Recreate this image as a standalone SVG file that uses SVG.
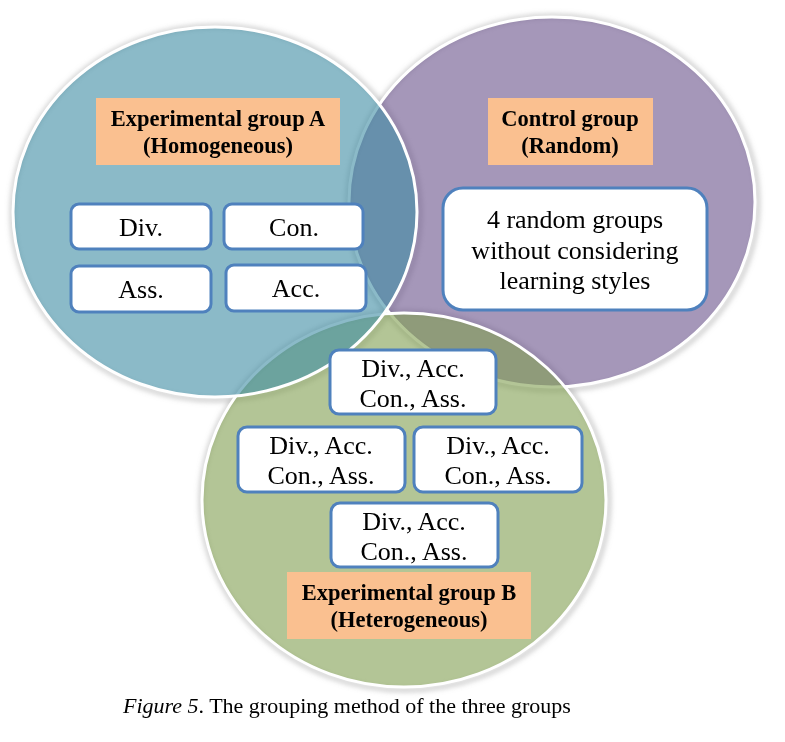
<svg xmlns="http://www.w3.org/2000/svg" width="785" height="742" viewBox="0 0 785 742">
<defs>
<filter id="sh" x="-10%" y="-10%" width="120%" height="120%"><feGaussianBlur stdDeviation="2.5"/></filter>
<style>
.shadow{fill:none;stroke:#9a9a9a;stroke-width:5;opacity:0.45}
.circ{stroke:#ffffff;stroke-width:3;fill-opacity:0.6}
.lbl{fill:#fac090}
.box{fill:#ffffff;stroke:#4f81bd;stroke-width:3}
.t{font-family:"Liberation Serif","Times New Roman",serif;font-size:26px;fill:#000;text-anchor:middle}
.b{font-family:"Liberation Serif","Times New Roman",serif;font-size:22.5px;font-weight:bold;fill:#000;text-anchor:middle}
.cap{font-family:"Liberation Serif","Times New Roman",serif;font-size:22px;fill:#000}
</style>
</defs>
<rect width="785" height="742" fill="#ffffff"/>
<g filter="url(#sh)">
<ellipse class="shadow" cx="553" cy="203" rx="205" ry="187"/>
<ellipse class="shadow" cx="405" cy="501" rx="204" ry="189"/>
<ellipse class="shadow" cx="216" cy="213" rx="204" ry="187"/>
</g>
<g id="control-circle"><ellipse class="circ" cx="552" cy="202" rx="203" ry="185" fill="#69528a"/></g>
<g id="groupB-circle"><ellipse class="circ" cx="404" cy="500" rx="202" ry="187" fill="#809e50"/></g>
<g id="groupA-circle"><ellipse class="circ" cx="215" cy="212" rx="202" ry="185" fill="#3e8ca3"/></g>

<g id="groupA-label">
<rect class="lbl" x="96" y="98" width="244" height="67"/>
<text class="b" x="218" y="126">Experimental group A</text>
<text class="b" x="218" y="153">(Homogeneous)</text>
</g>
<g id="box-div"><rect class="box" x="71" y="204" width="140" height="45" rx="8"/><text class="t" x="141" y="236">Div.</text></g>
<g id="box-con"><rect class="box" x="224" y="204" width="139" height="45" rx="8"/><text class="t" x="294" y="236">Con.</text></g>
<g id="box-ass"><rect class="box" x="71" y="266" width="140" height="46" rx="8"/><text class="t" x="141" y="298">Ass.</text></g>
<g id="box-acc"><rect class="box" x="226" y="265" width="140" height="46" rx="8"/><text class="t" x="296" y="297">Acc.</text></g>

<g id="control-label">
<rect class="lbl" x="488" y="98" width="165" height="67"/>
<text class="b" x="570" y="126">Control group</text>
<text class="b" x="570" y="153">(Random)</text>
</g>
<g id="control-box">
<rect class="box" x="443" y="188" width="264" height="122" rx="20"/>
<text class="t" x="575" y="228">4 random groups</text>
<text class="t" x="575" y="259">without considering</text>
<text class="t" x="575" y="289">learning styles</text>
</g>

<g id="hetero-top"><rect class="box" x="330" y="350" width="166" height="64" rx="9"/><text class="t" x="413" y="377">Div., Acc.</text><text class="t" x="413" y="407">Con., Ass.</text></g>
<g id="hetero-left"><rect class="box" x="238" y="427" width="167" height="65" rx="9"/><text class="t" x="321" y="454">Div., Acc.</text><text class="t" x="321" y="484">Con., Ass.</text></g>
<g id="hetero-right"><rect class="box" x="414" y="427" width="168" height="65" rx="9"/><text class="t" x="498" y="454">Div., Acc.</text><text class="t" x="498" y="484">Con., Ass.</text></g>
<g id="hetero-bottom"><rect class="box" x="331" y="503" width="167" height="64" rx="9"/><text class="t" x="414" y="530">Div., Acc.</text><text class="t" x="414" y="560">Con., Ass.</text></g>

<g id="groupB-label">
<rect class="lbl" x="287" y="572" width="244" height="67"/>
<text class="b" x="409" y="600">Experimental group B</text>
<text class="b" x="409" y="627">(Heterogeneous)</text>
</g>

<text class="cap" x="123" y="713"><tspan font-style="italic">Figure 5</tspan>. The grouping method of the three groups</text>
</svg>
